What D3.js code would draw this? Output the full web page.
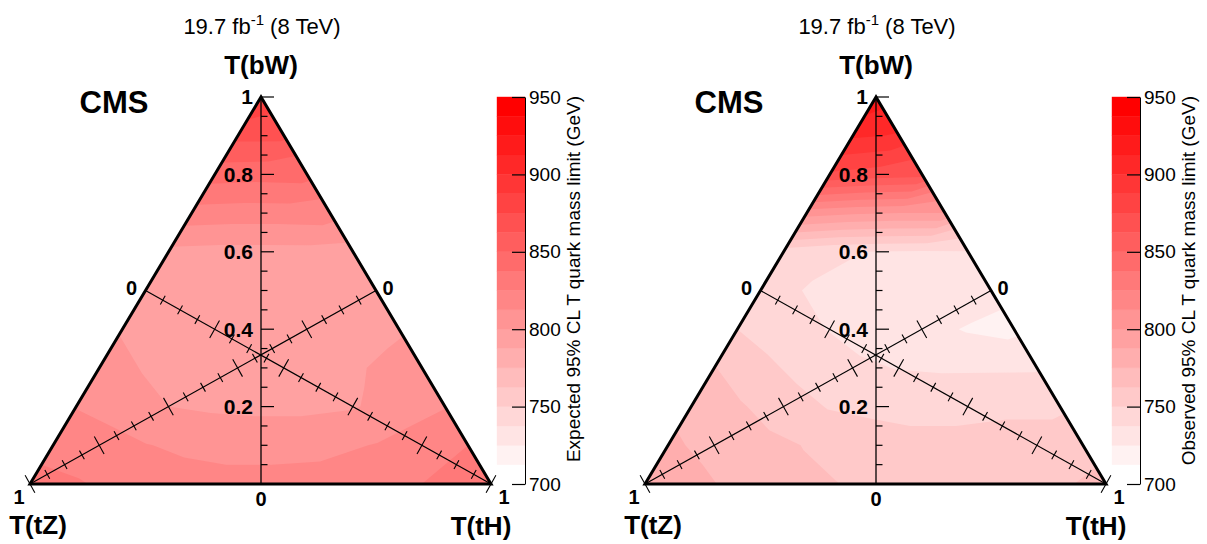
<!DOCTYPE html>
<html>
<head>
<meta charset="utf-8">
<script src="https://cdn.jsdelivr.net/npm/d3@7"></script>
<style>
  body { margin: 0; background: #fff; }
  svg { font-family: "Liberation Sans", Arial, Helvetica, sans-serif; }
</style>
</head>
<body>
<svg id="chart" width="1207" height="544"></svg>
<script>
// Branching fractions on the grid: rows are BR(bW) = 0.0 ... 1.0,
// entries in a row run over BR(tH) = 0.0 ... 1 - BR(bW).
const brSteps = d3.range(0, 11).map((k) => k / 10);

// Expected 95% CL lower limit on the T mass (GeV)
const expectedLimit = [
  [828, 826, 822, 818, 816, 816, 816, 818, 822, 828, 836],
  [822, 819, 813, 810, 809, 809, 810, 813, 818, 825],
  [812, 806, 800, 798, 797, 797, 799, 805, 812],
  [806, 799, 795, 794, 794, 796, 801, 806],
  [799, 794, 793, 792, 793, 796, 799],
  [797, 794, 793, 793, 794, 797],
  [797, 796, 796, 796, 797],
  [820, 819, 819, 820],
  [843, 842, 843],
  [866, 866],
  [888]
];

// Observed 95% CL lower limit on the T mass (GeV)
const observedLimit = [
  [786, 780, 771, 766, 763.5, 759, 756, 755, 756, 760, 768],
  [778, 770, 766, 762, 757, 753, 752, 752, 754, 758],
  [770, 764, 757, 749, 747, 747, 748, 749, 748],
  [763, 754, 745, 740, 737, 736, 736, 736],
  [750, 742, 737, 732, 729, 724, 721],
  [742, 737, 733, 731, 730, 730],
  [744, 739, 737, 736, 737],
  [806, 802, 800, 800],
  [873, 869, 867],
  [902, 899],
  [922]
];

const zLevels = d3.range(700, 950, 12.5);          // 20 contour levels
const zTicks = [700, 750, 800, 850, 900, 950];
const brLabelTicks = [0.2, 0.4, 0.6, 0.8, 1];
const brMinorTicks = d3.range(0, 21).map((k) => k / 20);

const panels = [
  { dx: 0, data: expectedLimit, zTitle: 'Expected 95% CL T quark mass limit (GeV)' },
  { dx: 615, data: observedLimit, zTitle: 'Observed 95% CL T quark mass limit (GeV)' }
];

const svg = d3.select('#chart');
const fillColor = d3.scaleSequential(d3.interpolateRgb('#ffffff', '#ff0000'))
  .domain([0, zLevels.length - 1]);

function drawPanel(p, idx) {
  const g = svg.append('g').attr('transform', `translate(${p.dx},0)`);

  // triangle corners: apex = bW, left = tZ, right = tH
  const A = [261, 97];
  const L = [30, 484];
  const R = [491, 484];

  const yBr = d3.scaleLinear().domain([0, 1]).range([L[1], A[1]]);
  const xTH = d3.scaleLinear().domain([0, 1]).range([0, R[0] - L[0]]);
  const toXY = (tH, bW) => [L[0] + xTH(tH) + bW * (A[0] - L[0]), yBr(bW)];

  // clip for the filled contours
  g.append('clipPath').attr('id', `tri${idx}`)
    .append('polygon').attr('points', [A, L, R].map((q) => q.join(',')).join(' '));

  // rectangular grid for d3.contours; cells past the diagonal get the
  // average of the two diagonal neighbours (they are clipped away anyway)
  const n = brSteps.length;
  const grid = new Array(n * n);
  for (let b = 0; b < n; b++) {
    for (let h = 0; h < n; h++) {
      grid[h + b * n] = h + b < n
        ? p.data[b][h]
        : (p.data[b][n - 1 - b] + p.data[n - 1 - h][h]) / 2;
    }
  }

  const contours = d3.contours().size([n, n]).thresholds(zLevels)(grid);
  const proj = d3.geoTransform({
    point(cx, cy) {
      const q = toXY((cx - 0.5) / (n - 1), (cy - 0.5) / (n - 1));
      this.stream.point(q[0], q[1]);
    }
  });
  const path = d3.geoPath(proj);

  g.append('g').attr('clip-path', `url(#tri${idx})`)
    .selectAll('path')
    .data(contours)
    .join('path')
    .attr('d', path)
    .attr('fill', (d, k) => fillColor(k))
    .attr('stroke', 'none');

  // vertical BR(bW) axis
  const axisX = A[0];
  g.append('line')
    .attr('x1', axisX).attr('x2', axisX)
    .attr('y1', yBr(0)).attr('y2', yBr(1))
    .attr('stroke', '#000').attr('stroke-width', 1.3);
  g.append('g').selectAll('line')
    .data(brMinorTicks)
    .join('line')
    .attr('x1', axisX)
    .attr('x2', (v) => axisX + (Math.round(v * 20) % 4 === 0 ? 13 : 6.5))
    .attr('y1', (v) => yBr(v)).attr('y2', (v) => yBr(v))
    .attr('stroke', '#000').attr('stroke-width', 1.2);
  g.append('g').selectAll('text')
    .data(brLabelTicks)
    .join('text')
    .attr('x', axisX - 8)
    .attr('y', (v) => yBr(v))
    .attr('dy', '0.35em')
    .attr('text-anchor', 'end')
    .attr('font-size', 21).attr('font-weight', 'bold')
    .text((v) => d3.format('~g')(v));
  g.append('text')
    .attr('x', axisX).attr('y', 506)
    .attr('text-anchor', 'middle')
    .attr('font-size', 20).attr('font-weight', 'bold')
    .text('0');

  // the two slanted median axes (tZ from left corner, tH from right corner)
  const mid = (a, b) => [(a[0] + b[0]) / 2, (a[1] + b[1]) / 2];
  const medians = [
    { zero: mid(A, R), one: L, off0: [12, 4], off1: [-11, 20] },
    { zero: mid(A, L), one: R, off0: [-14, 4], off1: [13, 20] }
  ];
  medians.forEach((m) => {
    const pos = d3.scaleLinear().domain([0, 1]).range([m.zero, m.one]);
    const dxm = m.one[0] - m.zero[0];
    const dym = m.one[1] - m.zero[1];
    const len = Math.hypot(dxm, dym);
    const nx = -dym / len;
    const ny = dxm / len;
    g.append('line')
      .attr('x1', m.zero[0]).attr('y1', m.zero[1])
      .attr('x2', m.one[0]).attr('y2', m.one[1])
      .attr('stroke', '#000').attr('stroke-width', 1.2);
    g.append('g').selectAll('line')
      .data(brMinorTicks)
      .join('line')
      .each(function(v) {
        const c = pos(v);
        const s = Math.round(v * 20) % 4 === 0 ? 10 : 5;
        d3.select(this)
          .attr('x1', c[0] - nx * s).attr('y1', c[1] - ny * s)
          .attr('x2', c[0] + nx * s).attr('y2', c[1] + ny * s);
      })
      .attr('stroke', '#000').attr('stroke-width', 1.1);
    g.append('text')
      .attr('x', m.zero[0] + m.off0[0]).attr('y', m.zero[1] + m.off0[1])
      .attr('text-anchor', 'middle')
      .attr('font-size', 20).attr('font-weight', 'bold')
      .text('0');
    g.append('text')
      .attr('x', m.one[0] + m.off1[0]).attr('y', m.one[1] + m.off1[1])
      .attr('text-anchor', 'middle')
      .attr('font-size', 20).attr('font-weight', 'bold')
      .text('1');
  });

  // triangle frame
  g.append('polygon')
    .attr('points', [A, L, R].map((q) => q.join(',')).join(' '))
    .attr('fill', 'none')
    .attr('stroke', '#000')
    .attr('stroke-width', 3)
    .attr('stroke-linejoin', 'miter');

  // corner titles
  const cornerTitles = [
    { text: 'T(bW)', x: A[0], y: 74 },
    { text: 'T(tZ)', x: 38, y: 534 },
    { text: 'T(tH)', x: 481, y: 535 }
  ];
  g.append('g').selectAll('text')
    .data(cornerTitles)
    .join('text')
    .attr('x', (d) => d.x).attr('y', (d) => d.y)
    .attr('text-anchor', 'middle')
    .attr('font-size', 26).attr('font-weight', 'bold')
    .text((d) => d.text);

  g.append('text')
    .attr('x', 114).attr('y', 113)
    .attr('text-anchor', 'middle')
    .attr('font-size', 31).attr('font-weight', 'bold')
    .text('CMS');

  const lumi = g.append('text')
    .attr('x', 262).attr('y', 34)
    .attr('text-anchor', 'middle')
    .attr('font-size', 22);
  lumi.append('tspan').text('19.7 fb');
  lumi.append('tspan').attr('dy', -9).attr('font-size', 15).text('-1');
  lumi.append('tspan').attr('dy', 9).text(' (8 TeV)');

  // colour bar
  const zScale = d3.scaleLinear().domain([700, 950]).range([484, 97]);
  const barX = 497;
  const barW = 28;
  g.append('g').selectAll('rect')
    .data(zLevels)
    .join('rect')
    .attr('x', barX)
    .attr('width', barW)
    .attr('y', (z) => zScale(z + 12.5))
    .attr('height', (z) => zScale(z) - zScale(z + 12.5))
    .attr('fill', (z, k) => fillColor(k))
    .attr('stroke', (z, k) => fillColor(k))
    .attr('stroke-width', 0.4);

  const zAxis = d3.axisRight(zScale)
    .tickValues(zTicks)
    .tickSizeInner(-13)
    .tickSizeOuter(0)
    .tickPadding(4)
    .tickFormat(d3.format('d'));
  const za = g.append('g')
    .attr('transform', `translate(${barX + barW},0)`)
    .call(zAxis);
  za.selectAll('text').attr('font-size', 19).attr('fill', '#000')
    .attr('font-family', '"Liberation Sans", Arial, Helvetica, sans-serif');
  za.selectAll('line').attr('stroke', '#000').attr('stroke-width', 1.2);
  za.select('.domain').attr('stroke', '#000').attr('stroke-width', 1);

  g.append('text')
    .attr('transform', 'translate(580,96) rotate(-90)')
    .attr('text-anchor', 'end')
    .attr('font-size', 19)
    .text(p.zTitle);
}

panels.forEach(drawPanel);
</script>
</body>
</html>
